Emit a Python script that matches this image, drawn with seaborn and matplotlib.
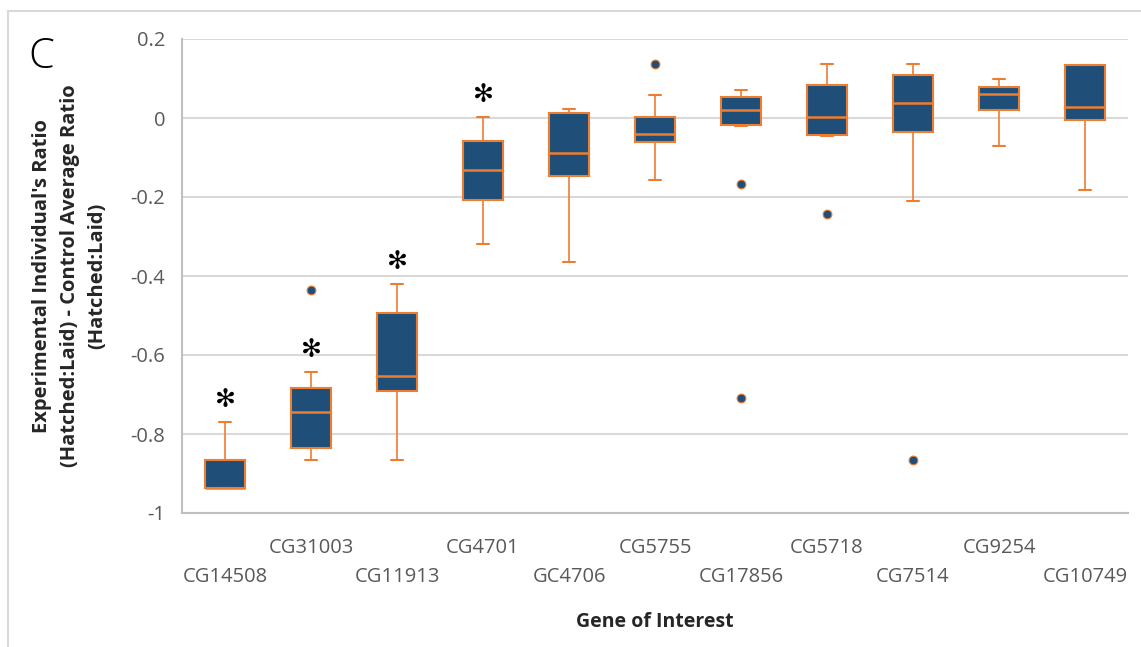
import matplotlib
matplotlib.use("Agg")
import numpy as np
import pandas as pd
import matplotlib.pyplot as plt
from matplotlib.patches import Rectangle
import seaborn as sns

# -----------------------------
# Data
# -----------------------------
genes = ["CG14508", "CG31003", "CG11913", "CG4701", "GC4706", "CG5755",
         "CG17856", "CG5718", "CG7514", "CG9254", "CG10749"]
whisker_low = [-0.937, -0.866, -0.866, -0.320, -0.365, -0.158, -0.021, -0.046, -0.209, -0.072, -0.183]
q1 = [-0.937, -0.835, -0.692, -0.207, -0.147, -0.061, -0.017, -0.042, -0.036, 0.020, -0.006]
median = [-0.937, -0.745, -0.653, -0.132, -0.088, -0.041, 0.020, 0.003, 0.039, 0.060, 0.029]
q3 = [-0.866, -0.684, -0.493, -0.057, 0.013, 0.003, 0.054, 0.083, 0.110, 0.079, 0.135]
whisker_high = [-0.770, -0.643, -0.421, 0.003, 0.024, 0.059, 0.070, 0.136, 0.136, 0.099, 0.135]

outlier_gene = ["CG31003", "CG5755", "CG17856", "CG17856", "CG5718", "CG7514"]
outlier_value = [-0.436, 0.136, -0.168, -0.709, -0.243, -0.866]

significant = ["CG14508", "CG31003", "CG11913", "CG4701"]

BOX_BLUE = "#1F4E79"
EDGE_ORANGE = "#ED7D31"
GRID_GREY = "#D9D9D9"
TEXT_GREY = "#595959"

sns.set_theme(style="white")
plt.rcParams["font.family"] = ["Open Sans", "DejaVu Sans"]

fig = plt.figure(figsize=(11.41, 6.47), dpi=100)
ax = fig.add_axes([182 / 1141, 1 - 513 / 647, (1128 - 182) / 1141, (513 - 39) / 647])

# -----------------------------
# Boxes from summary stats
# -----------------------------
stats = []
for i, g in enumerate(genes):
    stats.append(dict(label=g, whislo=whisker_low[i], q1=q1[i], med=median[i],
                      q3=q3[i], whishi=whisker_high[i], fliers=[]))

positions = np.arange(len(genes))
ax.bxp(stats, positions=positions, widths=0.47, capwidths=0.15, patch_artist=True,
       showfliers=False,
       boxprops=dict(facecolor=BOX_BLUE, edgecolor=EDGE_ORANGE, linewidth=1.5),
       medianprops=dict(color=EDGE_ORANGE, linewidth=1.8),
       whiskerprops=dict(color=EDGE_ORANGE, linewidth=1.2),
       capprops=dict(color=EDGE_ORANGE, linewidth=1.5))

# outliers
df_out = pd.DataFrame({"pos": [genes.index(g) for g in outlier_gene], "value": outlier_value})
sns.scatterplot(data=df_out, x="pos", y="value", ax=ax, color=BOX_BLUE,
                edgecolor=EDGE_ORANGE, linewidth=0.8, s=40, zorder=5, legend=False)

# significance markers
for g in significant:
    i = genes.index(g)
    ax.text(i, whisker_high[i] + 0.056, "\u273b", ha="center", va="center",
            fontsize=18, color="black", family=["DejaVu Sans"])

# -----------------------------
# Axes styling
# -----------------------------
ax.set_xlim(-0.5, len(genes) - 0.5)
ax.set_ylim(-1, 0.2)
ax.set_yticks([0.2, 0, -0.2, -0.4, -0.6, -0.8, -1])
ax.set_yticklabels(["0.2", "0", "-0.2", "-0.4", "-0.6", "-0.8", "-1"])
ax.yaxis.grid(True, color=GRID_GREY, linewidth=1.5)
ax.set_axisbelow(True)
for side in ["top", "right"]:
    ax.spines[side].set_visible(False)
ax.spines["left"].set_color("#BFBFBF")
ax.spines["bottom"].set_color("#BFBFBF")
ax.spines["left"].set_linewidth(1.5)
ax.spines["bottom"].set_linewidth(1.5)

ax.set_xticks(positions)
ax.set_xticklabels(genes)
ax.tick_params(axis="both", length=0, labelsize=14.5, labelcolor=TEXT_GREY)
ax.tick_params(axis="y", pad=12)
for i, tick in enumerate(ax.xaxis.get_major_ticks()):
    tick.set_pad(18 if i % 2 else 39)

ax.set_xlabel("Gene of Interest", fontsize=14, fontweight="bold", color="#262626", labelpad=0)
ax.xaxis.set_label_coords(0.5, -(622 - 513) / 474, transform=ax.transAxes)
ax.xaxis.label.set_va("center")
ax.set_ylabel("Experimental Individual's Ratio\n(Hatched:Laid) - Control Average Ratio\n(Hatched:Laid)",
              fontsize=14.5, fontweight="bold", color="#262626", linespacing=1.5)
ax.yaxis.set_label_coords(-(182 - 70) / 946, 0.5, transform=ax.transAxes)
ax.yaxis.label.set_va("center")

# panel letter and outer frame
fig.text(28 / 1141, 1 - 57 / 647, "C", fontsize=30, fontweight="light", color="black",
         ha="left", va="center")
fig.patches.append(Rectangle((8 / 1141, -0.2), 2, 1.2 - 11 / 647, transform=fig.transFigure,
                             fill=False, edgecolor=GRID_GREY, linewidth=1.5))

plt.savefig("out.png", dpi=100)
